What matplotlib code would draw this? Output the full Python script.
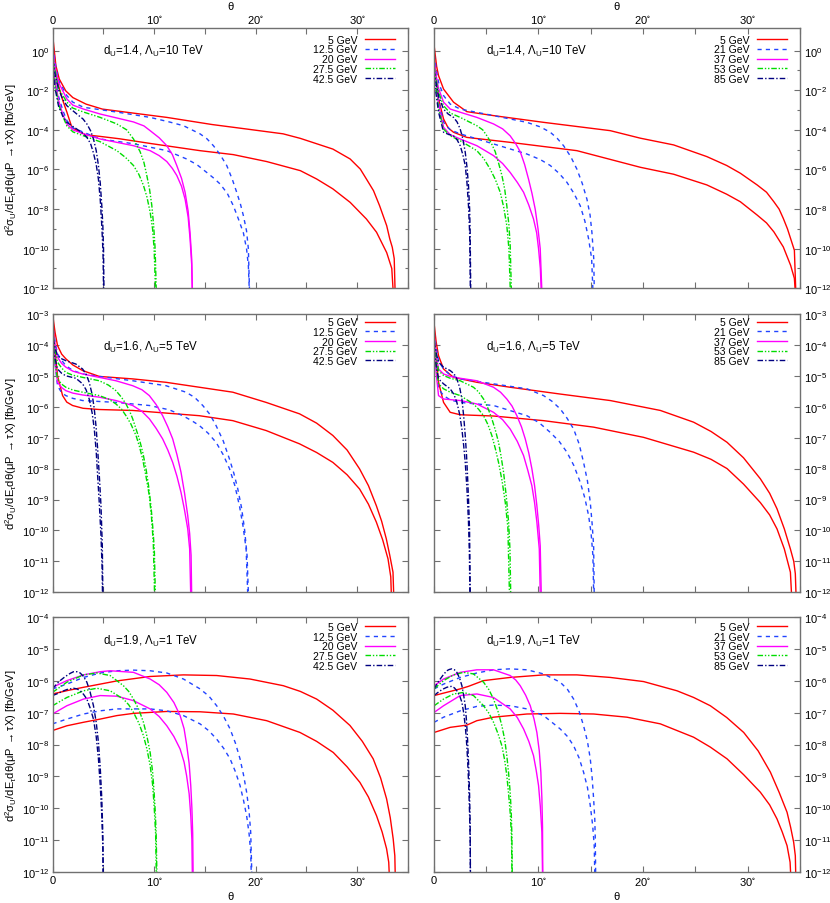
import numpy as np
import matplotlib
matplotlib.use('Agg')
import matplotlib.pyplot as plt
from matplotlib.ticker import MultipleLocator, FixedLocator, FuncFormatter

plt.rcParams.update({
    'font.family': ['Liberation Sans', 'DejaVu Sans'],
    'mathtext.fontset': 'custom',
    'mathtext.rm': 'Liberation Sans',
    'mathtext.it': 'Liberation Sans:italic',
    'mathtext.bf': 'Liberation Sans:bold',
    'mathtext.default': 'regular',
})

# legend labels
E_LEFT = ['5 GeV', '12.5 GeV', '20 GeV', '27.5 GeV', '42.5 GeV']
E_RIGHT = ['5 GeV', '21 GeV', '37 GeV', '53 GeV', '85 GeV']

# each entry: (theta_upper, log10y_upper, theta_lower, log10y_lower)
TL = [
    ([0.05, 0.33, 0.66, 1.3, 2.0, 3.3, 4.9, 8.2, 11.25, 15.7, 19.0, 22.7, 24.4, 26.0, 27.6, 29.3, 30.3, 30.9, 31.6, 32.2, 32.9, 33.2, 33.45, 33.64, 33.77],
     [0.6, -0.76, -1.43, -2.03, -2.37, -2.7, -2.95, -3.17, -3.37, -3.73, -3.95, -4.2, -4.43, -4.7, -4.97, -5.47, -5.98, -6.48, -7.07, -7.83, -8.84, -9.5, -9.93, -10.5, -13],
     [0.05, 0.3, 0.59, 1.0, 1.41, 1.9, 2.72, 3.3, 4.69, 6.6, 9.8, 14.52, 17.8, 21.08, 24.4, 26.0, 27.6, 29.3, 30.9, 31.9, 32.9, 33.4, 33.64],
     [0.3, -0.9, -1.77, -2.5, -3.1, -3.87, -4.12, -4.25, -4.33, -4.45, -4.7, -5.05, -5.25, -5.6, -6.06, -6.48, -6.98, -7.66, -8.5, -9.17, -10.2, -11.0, -13]),
    ([0.05, 0.25, 0.59, 1.41, 2.0, 3.05, 6.33, 9.61, 11.5, 12.89, 14.52, 15.2, 15.84, 16.5, 17.15, 17.7, 18.13, 18.5, 18.79, 19.1, 19.28, 19.44],
     [0.2, -0.6, -1.5, -2.27, -2.6, -2.86, -3.1, -3.37, -3.6, -3.79, -4.2, -4.45, -4.8, -5.25, -5.8, -6.5, -7.15, -7.75, -8.33, -9.1, -10.0, -13],
     [0.05, 0.25, 0.59, 1.0, 1.41, 2.0, 3.05, 4.69, 7.97, 11.25, 13.2, 14.2, 15.18, 15.9, 16.49, 17.2, 17.8, 18.3, 18.79, 19.1, 19.28, 19.44],
     [-0.2, -1.3, -2.3, -3.0, -3.53, -3.9, -4.12, -4.46, -4.7, -5.05, -5.47, -5.75, -6.15, -6.45, -6.73, -7.2, -7.83, -8.5, -9.2, -10.0, -10.86, -13]),
    ([0.05, 0.25, 0.59, 1.41, 2.0, 3.05, 4.69, 7.97, 9.0, 9.61, 10.5, 11.25, 11.8, 12.23, 12.7, 13.05, 13.35, 13.54, 13.7, 13.8],
     [0.0, -0.8, -1.6, -2.44, -2.75, -2.95, -3.2, -3.6, -3.8, -4.04, -4.4, -4.8, -5.25, -5.8, -6.45, -7.15, -8.1, -9.2, -10.5, -13],
     [0.05, 0.25, 0.59, 1.0, 1.41, 2.0, 3.05, 4.69, 7.97, 9.61, 10.5, 11.25, 11.8, 12.23, 12.7, 13.05, 13.35, 13.54, 13.7, 13.8],
     [-0.4, -1.5, -2.5, -3.2, -3.7, -4.0, -4.2, -4.46, -4.8, -5.05, -5.3, -5.6, -5.95, -6.3, -6.85, -7.5, -8.4, -9.5, -10.8, -13]),
    ([0.05, 0.25, 0.59, 1.41, 2.0, 3.05, 4.69, 6.33, 7.3, 7.97, 8.62, 9.0, 9.28, 9.55, 9.77, 9.95, 10.1, 10.26],
     [-0.3, -1.0, -1.9, -2.6, -2.9, -3.1, -3.37, -3.7, -4.0, -4.46, -5.1, -5.65, -6.3, -7.0, -7.8, -8.8, -10.0, -13],
     [0.05, 0.25, 0.59, 1.0, 1.41, 2.0, 3.05, 4.69, 6.33, 7.2, 7.97, 8.5, 8.95, 9.3, 9.61, 9.85, 10.0, 10.2],
     [-0.7, -1.7, -2.7, -3.3, -3.8, -4.1, -4.3, -4.6, -5.05, -5.4, -5.8, -6.25, -6.8, -7.4, -8.16, -9.0, -10.0, -13]),
    ([0.05, 0.25, 0.59, 1.0, 1.41, 2.39, 3.0, 3.38, 3.75, 4.03, 4.3, 4.52, 4.7, 4.85, 4.95, 5.02, 5.08],
     [-0.5, -1.2, -1.94, -2.45, -2.78, -3.2, -3.45, -3.7, -4.05, -4.46, -5.05, -5.8, -6.7, -7.83, -8.8, -10.0, -13],
     [0.05, 0.25, 0.59, 1.0, 1.41, 2.39, 3.0, 3.38, 3.75, 4.03, 4.3, 4.52, 4.7, 4.85, 4.97, 5.05],
     [-0.9, -1.9, -2.8, -3.3, -3.62, -3.96, -4.18, -4.38, -4.7, -5.17, -5.75, -6.5, -7.55, -8.85, -10.2, -13]),
]

TR = [
    ([0.06, 0.3, 0.48, 0.96, 1.91, 3.18, 5.73, 10.51, 16.88, 19.75, 22.93, 26.1, 28.0, 29.3, 30.9, 31.8, 32.5, 33.0, 33.4, 33.8, 34.1, 34.46, 34.65],
     [0.25, -0.8, -1.26, -1.94, -2.6, -3.08, -3.28, -3.62, -4.04, -4.42, -4.76, -5.35, -5.8, -6.19, -6.78, -7.15, -7.63, -8.0, -8.47, -9.0, -9.49, -10.08, -13],
     [0.06, 0.3, 0.48, 0.96, 1.4, 1.91, 3.18, 7.32, 13.69, 19.75, 22.93, 26.1, 28.0, 29.3, 30.9, 31.8, 32.5, 33.4, 34.1, 34.46, 34.65],
     [-0.3, -1.6, -2.44, -3.45, -3.9, -4.12, -4.38, -4.63, -5.05, -5.89, -6.24, -6.78, -7.25, -7.63, -8.3, -8.7, -9.15, -9.91, -10.84, -11.5, -13]),
    ([0.06, 0.3, 0.48, 0.96, 1.6, 2.55, 5.73, 8.92, 10.2, 11.15, 11.8, 12.42, 13.1, 13.69, 14.2, 14.65, 14.95, 15.13, 15.3, 15.38],
     [-0.2, -1.1, -1.6, -2.27, -2.7, -2.95, -3.28, -3.62, -3.85, -4.12, -4.42, -4.8, -5.35, -5.98, -6.7, -7.5, -8.3, -9.2, -10.5, -13],
     [0.06, 0.3, 0.48, 0.96, 1.6, 2.55, 5.73, 8.92, 10.2, 11.15, 12.0, 12.74, 13.4, 14.01, 14.45, 14.81, 15.1, 15.29],
     [-0.6, -1.7, -2.5, -3.62, -4.0, -4.2, -4.71, -5.22, -5.5, -5.8, -6.2, -6.65, -7.2, -7.83, -8.6, -9.5, -10.5, -13]),
    ([0.06, 0.3, 0.48, 0.96, 1.6, 2.55, 4.14, 5.73, 6.6, 7.32, 7.85, 8.28, 8.7, 9.08, 9.4, 9.71, 9.98, 10.19, 10.41],
     [-0.5, -1.4, -1.9, -2.6, -2.95, -3.11, -3.37, -3.7, -3.95, -4.3, -4.7, -5.1, -5.75, -6.5, -7.2, -8.0, -9.0, -10.0, -13],
     [0.06, 0.3, 0.48, 0.96, 1.6, 2.55, 4.14, 5.73, 6.6, 7.32, 8.0, 8.6, 9.1, 9.55, 9.85, 10.03, 10.2, 10.35],
     [-0.9, -1.9, -2.7, -3.87, -4.25, -4.46, -4.8, -5.3, -5.7, -6.15, -6.65, -7.15, -7.8, -8.5, -9.2, -10.0, -11.0, -13]),
    ([0.06, 0.3, 0.48, 0.96, 1.6, 2.55, 4.14, 4.7, 5.1, 5.5, 5.89, 6.2, 6.53, 6.8, 7.0, 7.2, 7.32, 7.48],
     [-0.8, -1.6, -2.1, -2.78, -3.15, -3.37, -3.79, -4.0, -4.3, -4.65, -5.1, -5.65, -6.3, -7.0, -7.83, -8.8, -9.8, -13],
     [0.06, 0.3, 0.48, 0.96, 1.6, 2.55, 4.14, 4.8, 5.41, 5.9, 6.37, 6.7, 7.0, 7.2, 7.39],
     [-1.2, -2.1, -2.9, -3.96, -4.3, -4.55, -5.05, -5.45, -5.98, -6.5, -7.15, -7.9, -8.84, -10.0, -13]),
    ([0.06, 0.3, 0.48, 0.96, 1.4, 1.91, 2.25, 2.55, 2.8, 3.03, 3.2, 3.34, 3.45, 3.5, 3.57],
     [-1.0, -1.8, -2.3, -2.95, -3.2, -3.37, -3.6, -3.96, -4.45, -5.13, -5.9, -6.8, -8.0, -9.2, -13],
     [0.06, 0.3, 0.48, 0.96, 1.4, 1.91, 2.25, 2.55, 2.8, 3.03, 3.2, 3.34, 3.45, 3.54],
     [-1.5, -2.4, -3.1, -4.12, -4.22, -4.3, -4.5, -4.8, -5.25, -5.8, -6.7, -7.83, -9.2, -13]),
]

ML = [
    ([0.07, 0.25, 0.49, 0.9, 1.31, 2.0, 2.96, 4.6, 7.89, 11.17, 14.46, 17.75, 21.03, 24.32, 26.0, 27.6, 29.0, 30.23, 31.1, 31.88, 32.4, 32.86, 33.2, 33.52, 33.68],
     [-3.16, -3.6, -4.02, -4.3, -4.45, -4.65, -4.83, -5.02, -5.1, -5.21, -5.37, -5.53, -5.86, -6.23, -6.53, -6.93, -7.4, -8.01, -8.55, -9.2, -9.7, -10.27, -10.8, -11.35, -13],
     [0.07, 0.25, 0.49, 0.99, 1.4, 1.97, 3.0, 4.6, 7.89, 14.46, 17.75, 21.03, 24.32, 26.0, 27.6, 29.0, 30.23, 31.1, 31.88, 32.5, 33.03, 33.3, 33.45],
     [-3.3, -4.2, -5.0, -5.64, -5.85, -5.96, -6.05, -6.09, -6.12, -6.29, -6.45, -6.77, -7.2, -7.48, -7.8, -8.2, -8.66, -9.15, -9.73, -10.3, -10.92, -11.5, -13]),
    ([0.07, 0.25, 0.49, 0.9, 1.31, 2.0, 2.96, 4.6, 7.89, 11.17, 13.14, 14.0, 14.79, 15.5, 16.1, 16.8, 17.42, 17.85, 18.24, 18.6, 18.9, 19.15, 19.39],
     [-3.5, -3.9, -4.29, -4.5, -4.67, -4.83, -4.94, -5.02, -5.16, -5.32, -5.53, -5.7, -5.96, -6.25, -6.61, -7.1, -7.69, -8.15, -8.66, -9.25, -9.95, -10.8, -13],
     [0.07, 0.25, 0.49, 0.9, 1.31, 2.0, 2.96, 6.24, 9.53, 11.5, 12.82, 13.7, 14.46, 15.3, 16.1, 16.8, 17.42, 17.95, 18.4, 18.75, 19.06, 19.32],
     [-3.8, -4.6, -5.32, -5.55, -5.64, -5.73, -5.8, -5.86, -5.96, -6.1, -6.29, -6.45, -6.61, -6.85, -7.15, -7.55, -8.0, -8.55, -9.2, -9.85, -10.6, -13]),
    ([0.07, 0.25, 0.49, 0.9, 1.31, 2.0, 2.96, 4.6, 6.24, 7.89, 8.8, 9.53, 10.2, 10.84, 11.35, 11.83, 12.25, 12.65, 13.0, 13.31, 13.5, 13.64, 13.74],
     [-3.6, -4.0, -4.4, -4.6, -4.72, -4.85, -4.94, -5.05, -5.16, -5.32, -5.45, -5.64, -5.93, -6.29, -6.65, -7.04, -7.55, -8.12, -8.8, -9.52, -10.1, -10.8, -13],
     [0.07, 0.25, 0.49, 0.9, 1.31, 2.0, 2.96, 4.6, 6.24, 7.89, 8.8, 9.53, 10.2, 10.84, 11.35, 11.83, 12.25, 12.65, 13.0, 13.31, 13.5, 13.67],
     [-3.9, -4.6, -5.21, -5.38, -5.48, -5.56, -5.62, -5.69, -5.8, -5.96, -6.15, -6.39, -6.7, -7.04, -7.4, -7.8, -8.25, -8.77, -9.35, -9.95, -10.6, -13]),
    ([0.07, 0.25, 0.49, 0.9, 1.31, 2.0, 2.96, 4.6, 5.5, 6.24, 6.8, 7.23, 7.6, 7.89, 8.2, 8.54, 8.9, 9.2, 9.45, 9.69, 9.87, 10.02, 10.19],
     [-3.7, -4.15, -4.56, -4.75, -4.89, -4.98, -5.05, -5.16, -5.3, -5.48, -5.7, -5.91, -6.15, -6.39, -6.7, -7.04, -7.5, -8.0, -8.55, -9.2, -9.9, -10.6, -13],
     [0.07, 0.25, 0.49, 0.9, 1.31, 2.0, 2.96, 4.6, 5.5, 6.24, 6.8, 7.23, 7.7, 8.22, 8.55, 8.87, 9.2, 9.53, 9.75, 9.92, 10.12],
     [-4.0, -4.6, -5.1, -5.27, -5.37, -5.46, -5.53, -5.64, -5.75, -5.91, -6.08, -6.29, -6.55, -6.93, -7.28, -7.69, -8.25, -8.88, -9.6, -10.4, -13]),
    ([0.07, 0.25, 0.49, 0.9, 1.31, 2.3, 2.96, 3.3, 3.61, 3.9, 4.11, 4.3, 4.44, 4.6, 4.77, 4.9, 4.99],
     [-3.8, -4.1, -4.35, -4.45, -4.51, -4.62, -4.78, -4.95, -5.21, -5.6, -6.07, -6.7, -7.36, -8.2, -9.2, -10.5, -13],
     [0.07, 0.25, 0.49, 0.9, 1.31, 2.3, 2.96, 3.3, 3.61, 3.9, 4.11, 4.3, 4.44, 4.6, 4.77, 4.88, 4.96],
     [-4.1, -4.45, -4.78, -4.92, -5.0, -5.08, -5.26, -5.45, -5.75, -6.2, -6.72, -7.45, -8.23, -9.1, -10.17, -11.2, -13]),
]

MR = [
    ([0.06, 0.25, 0.48, 0.96, 1.91, 4.14, 7.32, 12.1, 16.88, 21.66, 24.84, 26.5, 28.03, 29.6, 31.21, 32.1, 32.8, 33.5, 34.08, 34.4, 34.55, 34.71],
     [-3.32, -3.9, -4.35, -4.78, -5.05, -5.21, -5.37, -5.59, -5.8, -6.12, -6.5, -6.8, -7.15, -7.65, -8.33, -8.8, -9.3, -9.95, -10.6, -11.0, -11.4, -13],
     [0.06, 0.25, 0.48, 0.96, 1.59, 2.55, 5.73, 10.51, 15.29, 20.06, 24.84, 26.5, 28.03, 29.6, 31.21, 32.1, 32.8, 33.5, 34.08, 34.33],
     [-3.5, -4.4, -5.21, -5.86, -6.18, -6.26, -6.3, -6.45, -6.66, -6.99, -7.47, -7.7, -8.0, -8.5, -9.1, -9.5, -9.95, -10.6, -11.35, -13]),
    ([0.06, 0.25, 0.48, 0.96, 1.6, 2.55, 5.73, 8.92, 10.51, 11.3, 12.1, 12.75, 13.38, 13.9, 14.33, 14.7, 14.97, 15.15, 15.29, 15.38],
     [-3.6, -4.1, -4.51, -4.78, -4.98, -5.1, -5.26, -5.42, -5.64, -5.82, -6.07, -6.37, -6.72, -7.2, -7.8, -8.4, -9.09, -9.8, -10.5, -13],
     [0.06, 0.25, 0.48, 0.96, 1.6, 2.55, 5.73, 8.92, 10.1, 11.15, 12.0, 12.74, 13.4, 14.01, 14.45, 14.81, 15.05, 15.22, 15.35],
     [-3.9, -4.7, -5.42, -5.64, -5.78, -5.86, -5.96, -6.29, -6.52, -6.83, -7.12, -7.47, -7.9, -8.44, -8.95, -9.52, -10.1, -10.8, -13]),
    ([0.06, 0.25, 0.48, 0.96, 1.6, 2.55, 4.14, 5.73, 6.4, 7.0, 7.5, 7.96, 8.4, 8.76, 9.1, 9.39, 9.65, 9.87, 10.05, 10.19, 10.35],
     [-3.7, -4.3, -4.78, -4.94, -5.02, -5.08, -5.16, -5.37, -5.53, -5.75, -5.98, -6.29, -6.65, -7.04, -7.5, -8.0, -8.55, -9.2, -9.85, -10.5, -13],
     [0.06, 0.25, 0.48, 0.96, 1.6, 2.55, 4.14, 5.73, 6.6, 7.32, 8.0, 8.6, 9.0, 9.39, 9.65, 9.87, 10.1, 10.25],
     [-4.0, -4.9, -5.64, -5.75, -5.77, -5.8, -5.91, -6.18, -6.42, -6.72, -7.12, -7.58, -8.05, -8.55, -9.1, -9.73, -10.6, -13]),
    ([0.06, 0.25, 0.48, 0.96, 1.6, 2.55, 3.82, 4.3, 4.78, 5.2, 5.57, 5.9, 6.21, 6.45, 6.69, 6.95, 7.17, 7.3, 7.42],
     [-3.8, -4.35, -4.83, -4.99, -5.08, -5.16, -5.37, -5.52, -5.75, -6.05, -6.39, -6.75, -7.15, -7.6, -8.12, -8.9, -9.73, -10.6, -13],
     [0.06, 0.25, 0.48, 0.96, 1.6, 2.55, 3.82, 4.3, 4.78, 5.2, 5.57, 5.9, 6.21, 6.55, 6.85, 7.1, 7.32],
     [-4.1, -4.7, -5.26, -5.42, -5.53, -5.64, -5.91, -6.08, -6.29, -6.58, -6.93, -7.35, -7.8, -8.4, -9.09, -9.9, -13]),
    ([0.06, 0.25, 0.48, 0.96, 1.59, 1.95, 2.23, 2.5, 2.71, 2.88, 3.03, 3.15, 3.25, 3.35, 3.44, 3.54],
     [-3.9, -4.25, -4.56, -4.72, -4.83, -4.93, -5.1, -5.38, -5.75, -6.3, -6.93, -7.55, -8.23, -9.05, -9.95, -13],
     [0.06, 0.25, 0.48, 0.96, 1.59, 1.95, 2.23, 2.5, 2.71, 2.88, 3.03, 3.2, 3.34, 3.43, 3.5],
     [-4.2, -4.65, -5.1, -5.26, -5.42, -5.6, -5.86, -6.25, -6.72, -7.25, -7.8, -8.7, -9.73, -10.8, -13]),
]

BL = [
    ([0.0, 1.5, 3.05, 4.69, 6.33, 9.61, 12.89, 16.16, 19.44, 22.72, 24.4, 26.0, 27.6, 29.28, 30.5, 31.57, 32.3, 32.89, 33.25, 33.54, 33.7, 33.8],
     [-6.41, -6.3, -6.2, -6.1, -6.0, -5.86, -5.81, -5.83, -5.94, -6.15, -6.33, -6.57, -6.92, -7.4, -7.9, -8.45, -9.05, -9.71, -10.3, -10.97, -11.5, -13],
     [0.0, 1.41, 3.05, 4.69, 6.33, 7.97, 11.25, 14.52, 17.8, 21.08, 24.36, 26.0, 27.64, 29.0, 30.26, 31.1, 31.9, 32.45, 32.89, 33.1, 33.28],
     [-7.56, -7.41, -7.3, -7.2, -7.09, -7.02, -6.96, -6.97, -7.04, -7.25, -7.62, -7.9, -8.25, -8.7, -9.19, -9.65, -10.24, -10.75, -11.28, -11.7, -13]),
    ([0.0, 1.41, 3.05, 4.69, 6.33, 7.97, 9.61, 11.25, 12.89, 14.52, 15.4, 16.16, 16.85, 17.48, 18.0, 18.46, 18.8, 19.11, 19.35, 19.51, 19.7],
     [-6.25, -6.1, -5.89, -5.75, -5.68, -5.66, -5.68, -5.75, -5.94, -6.25, -6.48, -6.78, -7.12, -7.51, -7.95, -8.45, -8.95, -9.5, -10.1, -10.76, -13],
     [0.0, 1.41, 3.05, 4.69, 6.33, 9.61, 11.25, 12.89, 14.52, 15.4, 16.16, 16.85, 17.48, 18.0, 18.46, 18.8, 19.11, 19.35, 19.51, 19.64],
     [-7.35, -7.2, -7.04, -6.94, -6.88, -6.88, -6.94, -7.09, -7.35, -7.57, -7.83, -8.12, -8.45, -8.85, -9.29, -9.75, -10.24, -10.8, -11.39, -13]),
    ([0.0, 1.41, 3.05, 4.69, 5.67, 7.97, 9.61, 10.5, 11.25, 11.95, 12.56, 12.95, 13.2, 13.45, 13.61, 13.72, 13.8, 13.87],
     [-6.2, -5.99, -5.81, -5.71, -5.68, -5.73, -5.94, -6.12, -6.36, -6.68, -7.09, -7.5, -8.0, -8.6, -9.3, -10.0, -10.8, -13],
     [0.0, 1.41, 3.05, 4.69, 6.33, 7.97, 9.61, 10.5, 11.25, 11.95, 12.56, 12.95, 13.2, 13.45, 13.61, 13.72, 13.8],
     [-7.04, -6.78, -6.57, -6.46, -6.48, -6.62, -6.88, -7.12, -7.41, -7.75, -8.14, -8.55, -8.98, -9.55, -10.24, -11.0, -13]),
    ([0.0, 1.41, 3.05, 4.36, 5.67, 6.98, 7.5, 7.97, 8.5, 8.95, 9.3, 9.61, 9.85, 10.0, 10.12, 10.2, 10.33],
     [-6.36, -6.04, -5.81, -5.75, -5.83, -6.15, -6.33, -6.57, -6.9, -7.3, -7.75, -8.25, -8.85, -9.5, -10.15, -10.8, -13],
     [0.0, 1.41, 3.05, 4.36, 5.67, 6.98, 7.5, 7.97, 8.5, 8.95, 9.3, 9.61, 9.85, 10.0, 10.15, 10.26],
     [-6.78, -6.52, -6.31, -6.23, -6.31, -6.57, -6.75, -6.99, -7.33, -7.72, -8.15, -8.66, -9.25, -9.92, -10.8, -13]),
    ([0.0, 0.4, 0.75, 1.1, 1.41, 1.75, 2.07, 2.4, 2.72, 3.05, 3.38, 3.7, 4.03, 4.3, 4.52, 4.7, 4.85, 4.95, 5.02],
     [-6.25, -6.1, -5.99, -5.9, -5.83, -5.76, -5.71, -5.71, -5.75, -5.86, -6.04, -6.35, -6.78, -7.3, -7.93, -8.75, -9.71, -10.8, -13],
     [0.0, 0.4, 0.75, 1.1, 1.41, 1.75, 2.07, 2.4, 2.72, 3.05, 3.38, 3.7, 4.03, 4.3, 4.52, 4.7, 4.85, 4.95, 5.02],
     [-6.46, -6.41, -6.36, -6.31, -6.27, -6.25, -6.23, -6.25, -6.31, -6.42, -6.57, -6.85, -7.2, -7.75, -8.45, -9.3, -10.24, -11.2, -13]),
]

BR = [
    ([0.06, 1.0, 2.55, 3.34, 4.78, 7.32, 10.51, 13.69, 16.88, 20.06, 23.25, 24.84, 26.43, 28.0, 29.62, 31.0, 32.17, 33.0, 33.76, 34.1, 34.39, 34.55, 34.65],
     [-6.46, -6.38, -6.25, -6.17, -5.99, -5.89, -5.81, -5.81, -5.89, -6.02, -6.31, -6.52, -6.78, -7.15, -7.62, -8.2, -8.87, -9.5, -10.13, -10.6, -11.07, -11.5, -13],
     [0.06, 1.59, 3.18, 4.14, 5.73, 8.92, 12.1, 15.29, 18.47, 21.66, 24.84, 26.43, 28.03, 29.62, 31.21, 32.1, 32.8, 33.3, 33.76, 34.05, 34.24],
     [-7.62, -7.46, -7.39, -7.25, -7.14, -7.04, -7.02, -7.04, -7.14, -7.35, -7.77, -8.08, -8.45, -8.95, -9.5, -9.9, -10.34, -10.75, -11.18, -11.7, -13]),
    ([0.06, 0.96, 2.55, 4.14, 5.73, 7.32, 8.92, 10.51, 12.1, 12.8, 13.38, 13.9, 14.33, 14.7, 14.97, 15.15, 15.29, 15.4, 15.45, 15.51],
     [-6.25, -6.1, -5.89, -5.75, -5.65, -5.62, -5.65, -5.78, -6.04, -6.27, -6.57, -6.95, -7.41, -7.9, -8.45, -9.05, -9.71, -10.35, -11.0, -13],
     [0.06, 0.96, 2.55, 4.14, 5.73, 7.32, 8.92, 10.51, 12.1, 12.8, 13.38, 13.9, 14.33, 14.7, 14.97, 15.2, 15.35, 15.45],
     [-7.3, -7.14, -6.94, -6.8, -6.76, -6.78, -6.88, -7.09, -7.51, -7.75, -8.04, -8.42, -8.87, -9.35, -9.92, -10.55, -11.2, -13]),
    ([0.06, 0.96, 2.55, 4.14, 5.73, 7.32, 7.85, 8.28, 8.8, 9.24, 9.6, 9.87, 10.1, 10.25, 10.35, 10.41, 10.45],
     [-6.15, -5.94, -5.73, -5.65, -5.65, -5.83, -5.97, -6.15, -6.45, -6.78, -7.2, -7.62, -8.2, -8.87, -9.7, -10.6, -13],
     [0.06, 0.96, 2.55, 4.14, 5.73, 7.32, 8.0, 8.6, 9.1, 9.55, 9.8, 10.03, 10.2, 10.35, 10.45],
     [-6.99, -6.78, -6.46, -6.41, -6.52, -6.88, -7.15, -7.51, -7.9, -8.35, -8.8, -9.29, -9.95, -10.76, -13]),
    ([0.06, 0.96, 1.91, 2.87, 3.82, 4.78, 5.3, 5.73, 6.15, 6.53, 6.8, 7.0, 7.17, 7.32, 7.42, 7.48, 7.55],
     [-6.25, -5.99, -5.81, -5.73, -5.78, -6.04, -6.28, -6.57, -6.95, -7.41, -7.85, -8.35, -8.9, -9.5, -10.1, -10.8, -13],
     [0.06, 0.96, 1.91, 2.87, 3.82, 4.78, 5.3, 5.73, 6.15, 6.53, 6.8, 7.0, 7.17, 7.32, 7.45, 7.52],
     [-6.78, -6.57, -6.41, -6.36, -6.46, -6.78, -7.02, -7.3, -7.65, -8.04, -8.5, -8.98, -9.55, -10.13, -10.9, -13]),
    ([0.06, 0.35, 0.64, 0.95, 1.27, 1.5, 1.75, 2.0, 2.23, 2.5, 2.71, 2.88, 3.03, 3.15, 3.25, 3.35, 3.44, 3.5, 3.54],
     [-6.25, -6.08, -5.94, -5.8, -5.68, -5.64, -5.62, -5.65, -5.73, -5.92, -6.15, -6.45, -6.78, -7.25, -7.83, -8.6, -9.5, -10.5, -13],
     [0.06, 0.35, 0.64, 0.95, 1.27, 1.5, 1.75, 2.0, 2.23, 2.5, 2.71, 2.88, 3.03, 3.15, 3.25, 3.35, 3.44, 3.5, 3.54],
     [-6.46, -6.38, -6.31, -6.25, -6.2, -6.18, -6.17, -6.22, -6.31, -6.47, -6.67, -7.0, -7.41, -7.9, -8.45, -9.2, -10.13, -11.0, -13]),
]

PANEL_TEXT = [r'd$_U$=1.4, $\Lambda_U$=10 TeV',
              r'd$_U$=1.6, $\Lambda_U$=5 TeV',
              r'd$_U$=1.9, $\Lambda_U$=1 TeV']

COLORS = ['#ff0000', '#2244ff', '#ff00ff', '#00dd00', '#000080']
DASHES = [None, (3, 3), None, (4, 1.3, 1, 1.3, 1, 1.3), (4, 1.5, 1, 1.5)]

SPINE = '#707070'
FS = 8

fig = plt.figure(figsize=(8.3, 9.04), dpi=100)

cols = [(0.0633, 0.4283), (0.5223, 0.4416)]
rows = [(0.680, 0.2876), (0.3437, 0.3079), (0.0346, 0.2814)]
ytops = [10 ** 1.13, 1e-3, 1e-4]
text_y = [0.913, 0.885, 0.908]
leg_y = [0.975, 0.988, 0.982]

panels = [[TL, TR], [ML, MR], [BL, BR]]


def xfmt(v, pos):
    if abs(v) < 1e-9:
        return '0'
    if int(round(v)) % 10 == 0:
        return '%d$^{\\circ}$' % int(round(v))
    return ''


def yfmt(v, pos):
    e = int(round(np.log10(v)))
    return '10$^{%d}$' % e


for r in range(3):
    for c in range(2):
        ax = fig.add_axes([cols[c][0], rows[r][0], cols[c][1], rows[r][1]])
        data = panels[r][c]
        labels = E_LEFT if c == 0 else E_RIGHT
        for i, (tu, lu, tl, ll) in enumerate(data):
            kw = dict(color=COLORS[i], lw=1.0)
            l1, = ax.plot(tu, 10.0 ** np.array(lu), label=labels[i], **kw)
            l2, = ax.plot(tl, 10.0 ** np.array(ll), **kw)
            if DASHES[i] is not None:
                l1.set_dashes(DASHES[i])
                l2.set_dashes(DASHES[i])
        ax.set_yscale('log')
        ax.set_xlim(0, 35)
        ax.set_ylim(1e-12, ytops[r])

        ax.xaxis.set_major_locator(MultipleLocator(5))
        ax.xaxis.set_major_formatter(FuncFormatter(xfmt))
        ax.xaxis.set_minor_locator(FixedLocator([]))
        if r == 0:
            major = [10.0 ** e for e in range(-12, 1, 2)]
            minor = [10.0 ** e for e in range(-11, 1, 2)]
        else:
            top = int(round(np.log10(ytops[r])))
            major = [10.0 ** e for e in range(-12, top + 1)]
            minor = []
        ax.yaxis.set_major_locator(FixedLocator(major))
        ax.yaxis.set_minor_locator(FixedLocator(minor))
        ax.yaxis.set_major_formatter(FuncFormatter(yfmt))
        ax.yaxis.set_minor_formatter(FuncFormatter(lambda v, p: ''))

        ax.tick_params(which='both', direction='in', top=True, bottom=True,
                       left=True, right=True, labelsize=FS, colors='black')
        ax.tick_params(which='major', length=4, width=0.8, color=SPINE, pad=2.5)
        ax.tick_params(which='minor', length=2.5, width=0.8, color=SPINE)
        ax.tick_params(axis='x', labeltop=(r == 0), labelbottom=(r == 2))
        ax.tick_params(axis='y', labelleft=(c == 0), labelright=(c == 1))
        for sp in ax.spines.values():
            sp.set_color(SPINE)
            sp.set_linewidth(1.0)

        if r == 0:
            ax.xaxis.set_label_position('top')
            ax.set_xlabel('θ', fontsize=FS, labelpad=3)
        elif r == 2:
            ax.set_xlabel('θ', fontsize=FS, labelpad=3)

        if c == 0:
            ax.set_ylabel(r'd$^2\sigma_U$/dE$_\tau$d$\theta$($\mu$P $\rightarrow\tau$X) [fb/GeV]',
                          fontsize=FS)
            ax.yaxis.set_label_coords(-0.095, 0.5)

        ax.text(0.143, text_y[r], PANEL_TEXT[r], transform=ax.transAxes,
                fontsize=8.3, ha='left', va='center')

        xr = 0.963 if c == 0 else 0.964
        ax.legend(loc='upper right', bbox_to_anchor=(xr, leg_y[r]), frameon=False,
                  markerfirst=False, fontsize=7.5, handlelength=2.9, handletextpad=0.7,
                  labelspacing=-0.03, borderpad=0, borderaxespad=0)

fig.savefig('out.png', dpi=100)
